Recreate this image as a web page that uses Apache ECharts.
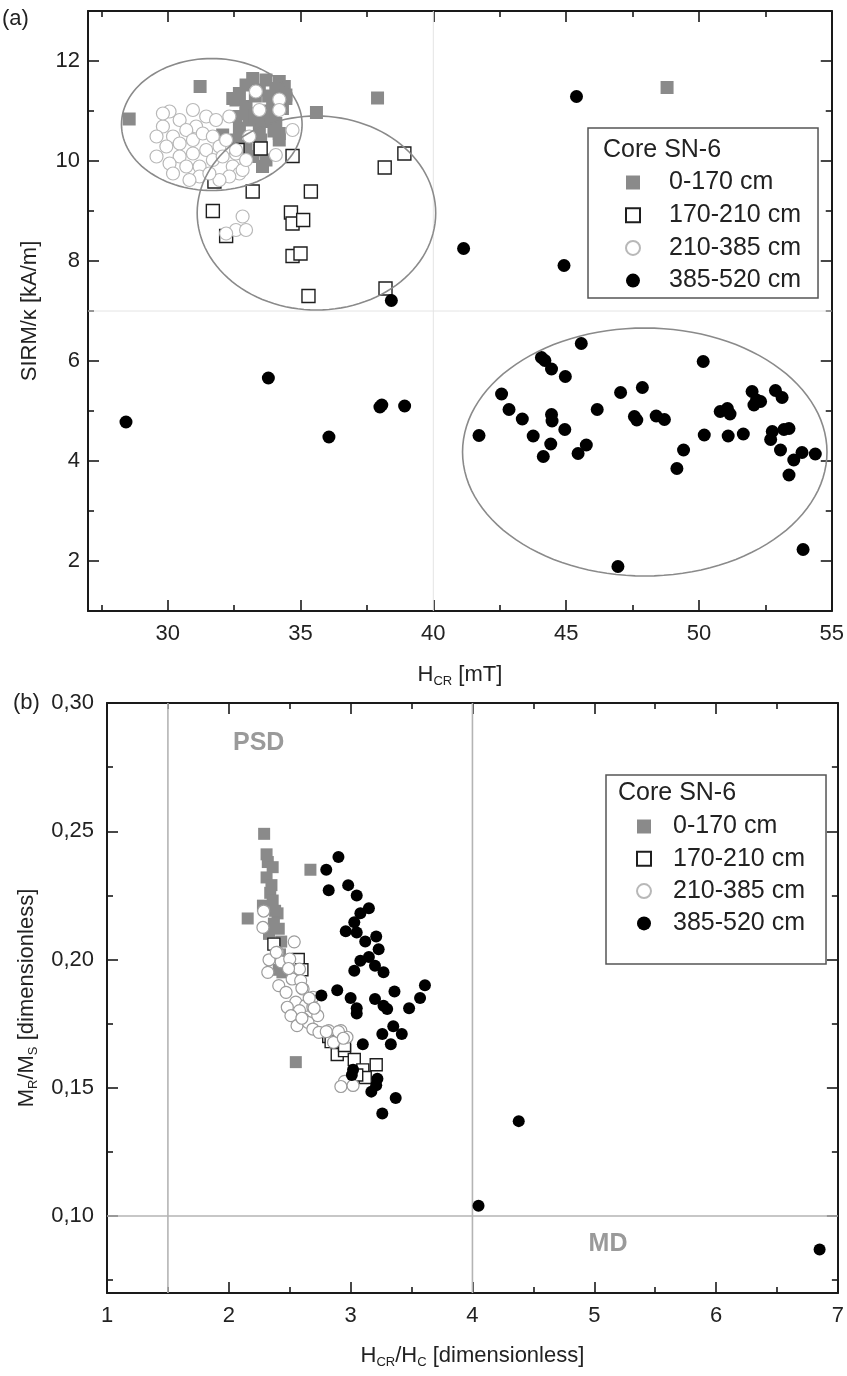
<!DOCTYPE html>
<html><head><meta charset="utf-8">
<script src="https://cdn.jsdelivr.net/npm/echarts@6/dist/echarts.min.js"></script>
<style>html,body{margin:0;padding:0;background:#fff}#c{width:847px;height:1376px}</style>
</head><body><div id="c"></div>
<script>
const FONT = '"Liberation Sans", Arial, sans-serif';
const seriesNames = ['0-170 cm', '170-210 cm', '210-385 cm', '385-520 cm'];
const legendTitle = 'Core SN-6';

// ---------- Panel (a): H_CR [mT] vs SIRM/kappa [kA/m] ----------
const a_0_170 = [[28.55,10.84],[31.22,11.49],[35.6,10.97],[37.9,11.26],[48.8,11.47],
  [33.2,11.65],[33.7,11.62],[34.2,11.59],[34.39,11.49],[32.95,11.52],[32.7,11.35],[33.45,11.42],[34.07,11.45],
  [32.57,11.22],[32.95,11.09],[33.95,11.15],[34.45,11.25],[34.32,11.05],[32.57,10.89],[32.95,10.95],[33.7,10.79],
  [34.07,10.75],[33.45,10.65],[34.2,10.55],[32.7,10.65],[33.07,10.49],[32.57,10.42],[32.95,10.29],[33.45,10.22],
  [33.2,10.09],[33.57,9.89],[33.7,10.02],[32.07,10.52],[33.5,10.42],[34.2,10.42],[34.45,11.32],[32.45,11.25],
  [33.07,10.82],[33.3,11.3],[33.8,11.3],[33.9,10.9],[33.3,10.9],[33.6,11.0],[34.0,10.6]];
const a_170_210 = [[32.2,8.5],[31.7,9.0],[31.76,9.59],[33.2,9.39],[33.5,10.25],[32.63,10.22],[34.7,10.1],
  [35.39,9.39],[34.64,8.97],[34.7,8.75],[35.1,8.82],[34.7,8.1],[35.0,8.15],[35.3,7.3],[38.91,10.15],[38.17,9.87],[38.2,7.45]];
const a_210_385 = [[30.07,10.99],[30.45,10.82],[30.95,11.02],[31.45,10.89],[31.82,10.82],[31.07,10.69],[30.7,10.62],
  [30.2,10.49],[29.82,10.69],[29.58,10.09],[29.95,10.29],[30.45,10.35],[30.95,10.42],[31.32,10.55],[31.7,10.49],
  [31.95,10.29],[31.45,10.22],[30.95,10.15],[30.45,10.09],[30.07,9.95],[30.2,9.75],[30.7,9.89],[31.2,9.89],
  [31.7,10.02],[32.07,10.09],[32.45,9.89],[32.7,9.75],[32.32,9.69],[31.95,9.62],[31.2,9.69],[30.82,9.62],
  [31.57,9.75],[32.82,9.82],[33.07,10.49],[32.32,10.89],[32.2,10.42],[32.57,10.15],[32.95,10.02],[29.82,10.95],
  [29.58,10.49],[33.32,11.39],[33.45,11.02],[34.2,11.23],[34.2,11.02],[34.7,10.62],[34.07,10.12],[32.57,10.22],
  [32.82,8.89],[32.57,8.62],[32.95,8.62],[32.2,8.55]];
const a_385_520 = [[28.43,4.78],[33.79,5.66],[36.07,4.48],[37.99,5.08],[38.06,5.12],[38.92,5.10],[38.42,7.21],
  [41.14,8.25],[44.92,7.91],[45.39,11.29],
  [41.72,4.51],[42.57,5.34],[42.85,5.03],[43.35,4.84],[43.76,4.50],[44.14,4.09],[44.42,4.34],[44.45,4.93],
  [44.47,4.80],[44.07,6.07],[44.2,6.01],[44.45,5.84],[44.97,5.69],[44.95,4.63],[45.57,6.35],[45.45,4.15],
  [45.76,4.32],[46.17,5.03],[47.05,5.37],[46.95,1.89],[47.57,4.89],[47.66,4.82],[47.87,5.47],[48.39,4.90],
  [48.7,4.83],[49.17,3.85],[49.42,4.22],[50.16,5.99],[50.2,4.52],[50.8,4.99],[51.07,5.05],[51.17,4.94],
  [51.1,4.50],[51.67,4.54],[52.0,5.39],[52.17,5.22],[52.32,5.19],[52.07,5.12],[52.88,5.41],[53.13,5.27],
  [52.7,4.43],[52.76,4.59],[53.2,4.63],[53.39,4.65],[53.07,4.22],[53.57,4.02],[53.88,4.17],[53.39,3.72],
  [54.38,4.14],[53.92,2.23]];
// ellipses: [centre x, centre y, half width, half height] in data units
const ellipsesA = [[31.66,10.73,3.40,1.32],[35.6,8.96,4.49,1.94],[47.96,4.18,6.86,2.48]];
const refXA = [40], refYA = [7];
const xTicksA = [30,35,40,45,50,55], xMinorA = [27.5,32.5,37.5,42.5,47.5,52.5];
const yTicksA = [2,4,6,8,10,12], yMinorA = [3,5,7,9,11];

// ---------- Panel (b): H_CR/H_C vs M_R/M_S ----------
const b_0_170 = [[2.29,0.249],[2.31,0.241],[2.32,0.238],[2.36,0.236],[2.31,0.232],[2.35,0.229],[2.34,0.226],
  [2.67,0.235],[2.28,0.221],[2.36,0.223],[2.40,0.218],[2.38,0.219],[2.155,0.216],[2.37,0.214],[2.41,0.212],
  [2.33,0.210],[2.43,0.207],[2.39,0.205],[2.42,0.202],[2.41,0.196],[2.44,0.195],[2.55,0.160]];
const b_170_210 = [[2.37,0.206],[2.57,0.200],[2.60,0.196],[2.82,0.170],[2.84,0.168],[2.89,0.163],[2.95,0.1645],
  [2.95,0.1665],[3.03,0.161],[3.10,0.157],[3.21,0.159],[3.12,0.154],[3.05,0.155]];
const b_210_385 = [[2.286,0.2189],[2.28,0.2125],[2.537,0.2069],[2.40,0.2028],[2.33,0.1999],[2.43,0.1991],
  [2.32,0.195],[2.50,0.2002],[2.58,0.1963],[2.41,0.1898],[2.52,0.1924],[2.59,0.1918],[2.47,0.1872],[2.61,0.1885],
  [2.69,0.1853],[2.55,0.1834],[2.63,0.1821],[2.48,0.1814],[2.58,0.1801],[2.69,0.1814],[2.51,0.1781],[2.61,0.1769],
  [2.73,0.1781],[2.56,0.1742],[2.65,0.1755],[2.69,0.1729],[2.74,0.1716],[2.82,0.1723],[2.92,0.1723],[2.97,0.1697],
  [2.86,0.1677],[2.39,0.2028],[2.49,0.1965],[2.60,0.1888],[2.66,0.1849],[2.70,0.181],[2.60,0.1771],[2.80,0.1719],
  [2.90,0.1719],[2.94,0.1693],[2.95,0.1525],[2.92,0.1505],[3.02,0.1509]];
const b_385_520 = [[2.90,0.240],[2.80,0.235],[2.82,0.227],[2.98,0.229],[3.05,0.225],[3.15,0.220],[3.08,0.218],
  [3.03,0.2145],[2.96,0.211],[3.05,0.2105],[3.12,0.207],[3.21,0.209],[3.23,0.204],[3.15,0.201],[3.08,0.1995],
  [3.03,0.1956],[3.20,0.1976],[3.27,0.195],[2.89,0.188],[2.76,0.186],[3.00,0.185],[3.05,0.181],[3.05,0.179],
  [3.20,0.1846],[3.27,0.182],[3.30,0.1807],[3.36,0.1875],[3.48,0.181],[3.57,0.185],[3.61,0.190],[3.35,0.174],
  [3.26,0.171],[3.42,0.171],[3.33,0.167],[3.10,0.167],[3.02,0.157],[3.01,0.155],[3.22,0.1535],[3.21,0.151],
  [3.17,0.1485],[3.37,0.146],[3.26,0.140],[4.05,0.104],[4.38,0.137],[6.85,0.087]];
const refXB = [1.5, 4], refYB = [0.10];
const xTicksB = [1,2,3,4,5,6,7], xMinorB = [1.5,2.5,3.5,4.5,5.5,6.5];
const yTicksB = [0.10,0.15,0.20,0.25,0.30], yMinorB = [0.075,0.125,0.175,0.225,0.275];

const AX = '#1a1a1a';
const nameStyle = {
  fontFamily: FONT, fontSize: 22, color: '#222',
  rich: {
    m: {fontFamily: FONT, fontSize: 22, color: '#222', lineHeight: 26},
    s: {fontFamily: FONT, fontSize: 13, color: '#222', lineHeight: 13, verticalAlign: 'bottom', padding: [9, 0, 0, 0]}
  }
};
function axes(dim, grid, min, max, major, minor, fmt, name, nameGap, margin) {
  const pos = dim === 'x' ? ['bottom', 'top'] : ['left', 'right'];
  const base = {type: 'value', gridIndex: grid, min: min, max: max, splitLine: {show: false}};
  const line = {show: true, onZero: false, lineStyle: {color: AX, width: 2}};
  const tick = (vals, len) => ({show: true, inside: true, length: len, customValues: vals, lineStyle: {color: AX, width: 1.6}});
  return [
    Object.assign({}, base, {position: pos[0], axisLine: line, axisTick: tick(major, 11),
      axisLabel: {show: true, customValues: major, formatter: fmt, margin: margin, fontSize: 22, color: '#222', fontFamily: FONT},
      name: name, nameLocation: 'middle', nameGap: nameGap, nameTextStyle: nameStyle}),
    Object.assign({}, base, {position: pos[0], axisLine: {show: false, onZero: false}, axisTick: tick(minor, 6), axisLabel: {show: false}}),
    Object.assign({}, base, {position: pos[1], axisLine: line, axisTick: tick(major, 11), axisLabel: {show: false}}),
    Object.assign({}, base, {position: pos[1], axisLine: {show: false, onZero: false}, axisTick: tick(minor, 6), axisLabel: {show: false}})
  ];
}
const fmtInt = v => String(v);
const fmtComma = v => v.toFixed(2).replace('.', ',');

const xAxes = [].concat(
  axes('x', 0, 27, 55, xTicksA, xMinorA, fmtInt, '{m|H}{s|CR}{m| [mT]}', 51, 12),
  axes('x', 1, 1, 7, xTicksB, xMinorB, fmtInt, '{m|H}{s|CR}{m|/H}{s|C}{m| [dimensionless]}', 50, 12)
);
const yAxes = [].concat(
  axes('y', 0, 1, 13, yTicksA, yMinorA, fmtInt, '{m|SIRM/κ [kA/m]}', 45, 8),
  axes('y', 1, 0.07, 0.30, yTicksB, yMinorB, fmtComma, '{m|M}{s|R}{m|/M}{s|S}{m| [dimensionless]}', 64, 13)
);

function styles(circleBorder) {
  return [
    {symbol: 'rect', itemStyle: {color: '#8a8a8a', opacity: 1}},
    {symbol: 'rect', itemStyle: {color: '#fff', borderColor: '#1e1e1e', borderWidth: 1.4, opacity: 1}},
    {symbol: 'circle', itemStyle: {color: '#fff', borderColor: circleBorder, borderWidth: 1.2, opacity: 1}},
    {symbol: 'circle', itemStyle: {color: '#000', opacity: 1}}
  ];
}
function scatterSet(idx, datas, size, circleBorder) {
  const st = styles(circleBorder);
  return datas.map((d, i) => ({
    type: 'scatter', name: seriesNames[i], xAxisIndex: idx * 4, yAxisIndex: idx * 4,
    data: d, symbol: st[i].symbol, symbolSize: size, itemStyle: st[i].itemStyle,
    z: 3 + i, silent: true, animation: false
  }));
}
function refLines(idx, xs, ys, color, width, minX, minY) {
  return {
    type: 'custom', xAxisIndex: idx * 4, yAxisIndex: idx * 4, silent: true, animation: false, z: 1,
    data: xs.map(v => [v, minY, 0]).concat(ys.map(v => [minX, v, 1])),
    renderItem: function (params, api) {
      const cs = params.coordSys;
      const p = api.coord([api.value(0), api.value(1)]);
      const shape = api.value(2) === 0
        ? {x1: p[0], y1: cs.y, x2: p[0], y2: cs.y + cs.height}
        : {x1: cs.x, y1: p[1], x2: cs.x + cs.width, y2: p[1]};
      return {type: 'line', shape: shape, style: {stroke: color, lineWidth: width}};
    }
  };
}
const ellipseSeries = {
  type: 'custom', xAxisIndex: 0, yAxisIndex: 0, silent: true, animation: false, z: 10,
  data: ellipsesA,
  renderItem: function (params, api) {
    const c = api.coord([api.value(0), api.value(1)]);
    const s = api.size([api.value(2), api.value(3)]);
    const pts = [];
    for (let k = 0; k < 120; k++) {
      const t = k / 120 * Math.PI * 2;
      pts.push([c[0] + s[0] * Math.cos(t), c[1] + s[1] * Math.sin(t)]);
    }
    return {type: 'polygon', shape: {points: pts}, style: {fill: 'none', stroke: '#8a8a8a', lineWidth: 1.6}};
  }
};

const legendBase = {
  orient: 'vertical', data: seriesNames, selectedMode: false, itemWidth: 14, itemHeight: 14,
  borderColor: '#555', borderWidth: 1.5, backgroundColor: '#fff', z: 20
};
const legText = pad => ({fontFamily: FONT, fontSize: 25, lineHeight: 24, color: '#222', padding: [0, 0, 0, pad]});

const option = {
  animation: false,
  textStyle: {fontFamily: FONT},
  grid: [
    {left: 88, top: 11, width: 746, height: 600},
    {left: 107, top: 703, width: 733, height: 590}
  ],
  xAxis: xAxes,
  yAxis: yAxes,
  legend: [
    Object.assign({}, legendBase, {left: 588, top: 128, padding: [42, 17, 5, 37], itemGap: 7.7, textStyle: legText(24)}),
    Object.assign({}, legendBase, {left: 606, top: 775, padding: [39, 21, 28, 30], itemGap: 7.3, textStyle: legText(17)})
  ],
  graphic: [
    {type: 'text', x: 603, y: 150, z: 100, style: {text: legendTitle, font: '25px ' + FONT, fill: '#222', verticalAlign: 'middle'}},
    {type: 'text', x: 618, y: 793, z: 100, style: {text: legendTitle, font: '25px ' + FONT, fill: '#222', verticalAlign: 'middle'}},
    {type: 'text', x: 2, y: 19, z: 100, style: {text: '(a)', font: '22px ' + FONT, fill: '#222', verticalAlign: 'middle'}},
    {type: 'text', x: 13, y: 703, z: 100, style: {text: '(b)', font: '22px ' + FONT, fill: '#222', verticalAlign: 'middle'}},
    {type: 'text', x: 233, y: 743, z: 100, style: {text: 'PSD', font: 'bold 25px ' + FONT, fill: '#9a9a9a', verticalAlign: 'middle'}},
    {type: 'text', x: 608, y: 1244, z: 100, style: {text: 'MD', font: 'bold 25px ' + FONT, fill: '#9a9a9a', verticalAlign: 'middle', align: 'center'}}
  ],
  series: [].concat(
    [refLines(0, refXA, refYA, '#e4e4e4', 1, 27, 1)],
    scatterSet(0, [a_0_170, a_170_210, a_210_385, a_385_520], 13, '#b8b8b8'),
    [ellipseSeries],
    [refLines(1, refXB, refYB, '#b4b4b4', 1.6, 1, 0.07)],
    scatterSet(1, [b_0_170, b_170_210, b_210_385, b_385_520], 12, '#9c9c9c')
  )
};
const chart = echarts.init(document.getElementById('c'), null, {renderer: 'canvas'});
chart.setOption(option);
</script>
</body></html>
